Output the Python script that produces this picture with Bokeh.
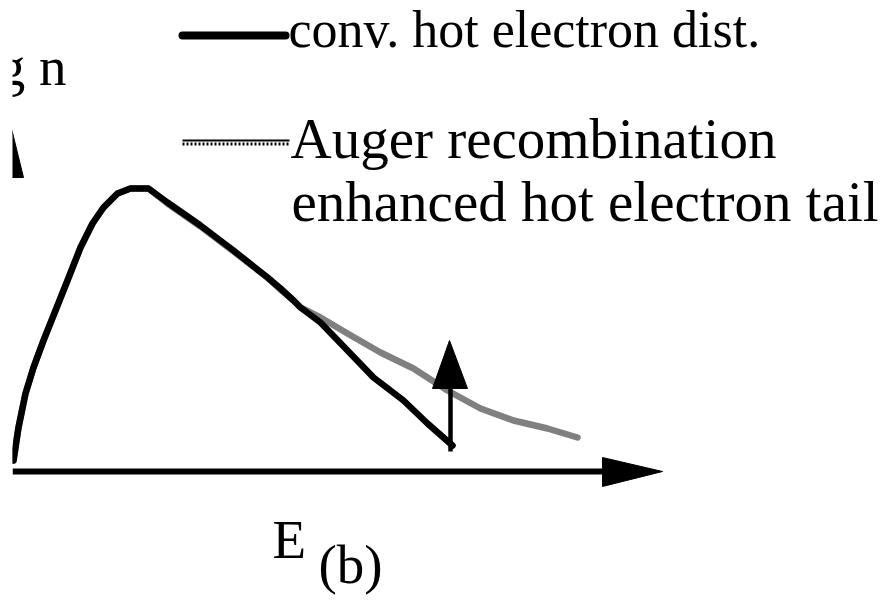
from bokeh.plotting import figure
from bokeh.models import Range1d
from bokeh.core.properties import value
from bokeh.embed import file_html
from bokeh.resources import INLINE

# Schematic hot-electron distributions, drawn on a canvas-like coordinate
# system (x to the right, y downward).
energy_conv = [13, 18, 25, 33, 43, 55, 67, 80, 92, 103, 117, 130, 148, 167,
               200, 233, 267, 280, 293, 300, 320, 347, 373, 403, 427, 452]
logn_conv = [460, 427, 393, 367, 340, 310, 280, 247, 223, 207, 193, 188, 188, 202,
             225, 250, 277, 288, 300, 307, 322, 350, 377, 400, 423, 445]

energy_auger = [13, 18, 25, 33, 43, 55, 67, 80, 92, 103, 117, 130, 148, 167,
                200, 233, 267, 280, 293, 300, 320, 347, 380, 413, 447, 480,
                513, 547, 577]
logn_auger = [460, 427, 393, 367, 340, 310, 280, 247, 223, 207, 193, 188, 188, 203,
              226, 251, 277, 289, 300, 307, 317, 333, 352, 368, 390, 408,
              420, 428, 437]

legend_labels = ["conv. hot electron dist.",
                 "Auger recombination",
                 "enhanced hot electron tail"]
axis_labels = ["log n", "E", "(b)"]

FONT = value("Liberation Serif")
# distance from the alphabetic baseline to the middle of the em box
MID = (0.891 - 0.216) / 2


def mid(baseline, size):
    return baseline - MID * size


p = figure(width=886, height=602, output_backend="svg", toolbar_location=None,
           x_range=Range1d(12, 886), y_range=Range1d(602, 0),
           min_border_left=12, min_border_right=0, min_border_top=0,
           min_border_bottom=0, outline_line_color=None,
           background_fill_color="white", border_fill_color="white")
p.axis.visible = False
p.grid.visible = False

# Axes drawn as arrows
p.line([0, 0], [177, 471], line_color="black", line_width=6)
p.patch([0, -23, 23], [83, 177, 177], fill_color="black", line_color="black")
p.line([12, 605], [471, 471], line_color="black", line_width=6)
p.patch([602, 662, 602], [457, 471, 486], fill_color="black", line_color="black")

# Curves
p.line(energy_auger, logn_auger, line_color="#808080", line_width=6.5,
       line_join="round", line_cap="round")
p.line(energy_conv, logn_conv, line_color="black", line_width=6.5,
       line_join="round", line_cap="round")

# Enhancement arrow
p.line([450, 450], [451, 386], line_color="black", line_width=4.5)
p.patch([449, 432, 467], [340, 388, 388], fill_color="black", line_color="black")

# Legend keys
p.line([182, 285], [35, 35], line_color="black", line_width=8, line_cap="round")
p.line([182, 289], [140, 140], line_color="black", line_width=2)
p.line([182, 289], [143.5, 143.5], line_color="black", line_width=3,
       line_dash="2 2")

# Legend texts
p.text(x=[288], y=[mid(46.5, 52)], text=[legend_labels[0]], text_font=FONT,
       text_font_size="52px", text_color="black", text_baseline="middle")
p.text(x=[290, 291], y=[mid(157, 57), mid(220, 57)], text=legend_labels[1:],
       text_font=FONT, text_font_size="57px", text_color="black",
       text_baseline="middle")

# Axis labels
p.text(x=[66], y=[mid(85, 55)], text=[axis_labels[0]], text_font=FONT,
       text_font_size="55px", text_color="black", text_align="right",
       text_baseline="middle")
p.text(x=[272], y=[mid(558, 55)], text=[axis_labels[1]], text_font=FONT,
       text_font_size="55px", text_color="black", text_baseline="middle")
p.text(x=[318], y=[mid(583, 55)], text=[axis_labels[2]], text_font=FONT,
       text_font_size="55px", text_color="black", text_baseline="middle")

open("out.html", "w").write(file_html(p, INLINE))
